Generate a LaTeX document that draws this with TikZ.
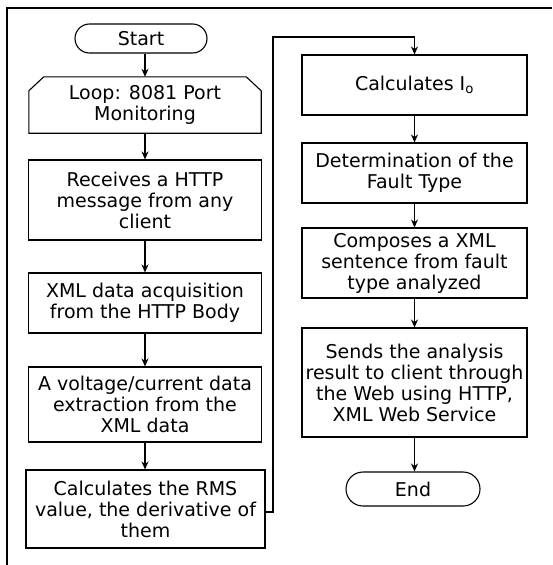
\documentclass[tikz,border=0pt]{standalone}
\usepackage{fontspec}
\setmainfont{DejaVu Sans}
\usetikzlibrary{shapes.misc,arrows.meta,calc}
\begin{document}
\begin{tikzpicture}[x=1pt,y=-1pt,
  every node/.style={font=\fontsize{19}{21}\selectfont, align=center, inner sep=0pt},
  box/.style={draw, line width=1.1pt, rectangle},
  term/.style={draw, line width=1.1pt, rounded rectangle},
  plain/.style={rectangle},
  conn/.style={line width=1.1pt, -{Stealth[length=8pt,width=7pt]}}]
\useasboundingbox (0,0) rectangle (552,565);
\draw[line width=1.2pt] (552,8) -- (7,8) -- (7,565);
% left column
\node[term, minimum width=132pt, minimum height=29pt] (start) at (141,38.5) {Start};
\node[plain, minimum width=232pt, minimum height=56pt] (loop) at (145,105) {Loop: 8081 Port\\Monitoring};
\draw[line width=1.1pt] (loop.south west) -- ($(loop.north west)+(0,14)$) -- ($(loop.north west)+(15,0)$) -- ($(loop.north east)+(-15,0)$) -- ($(loop.north east)+(0,14)$) -- (loop.south east) -- cycle;
\node[box, minimum width=233pt, minimum height=80pt] (recv) at (145,200) {Receives a HTTP\\message from any\\client};
\node[box, minimum width=233pt, minimum height=60pt] (xml) at (145,303) {XML data acquisition\\from the HTTP Body};
\node[box, minimum width=233pt, minimum height=75pt] (volt) at (145,404.5) {A voltage/current data\\extraction from the\\XML data};
\node[box, minimum width=239pt, minimum height=78pt] (rms) at (145.5,509) {Calculates the RMS\\value, the derivative of\\them};
% right column
\node[box, minimum width=225pt, minimum height=60pt] (io) at (414.5,85) {Calculates I\textsubscript{o}};
\node[box, minimum width=225pt, minimum height=60pt] (det) at (414.5,173) {Determination of the\\Fault Type};
\node[box, minimum width=225pt, minimum height=70pt] (comp) at (414.5,263) {Composes a XML\\sentence from fault\\type analyzed};
\node[box, minimum width=225pt, minimum height=109pt] (send) at (414.5,382.5) {Sends the analysis\\result to client through\\the Web using HTTP,\\XML Web Service};
\node[term, minimum width=134pt, minimum height=34pt] (end) at (413,489) {End};
\coordinate (c1) at (273,512);
\coordinate (c2) at (273,37);
% connectors
\draw[conn] (start.south -| loop.north) -- (loop.north);
\draw[conn] (loop) -- (recv);
\draw[conn] (recv) -- (xml);
\draw[conn] (xml) -- (volt);
\draw[conn] (volt.south) -- (volt.south |- rms.north);
\draw[conn] (rms.east |- c1) -- (c1) -- (c2) -| (io.north);
\draw[conn] (io) -- (det);
\draw[conn] (det) -- (comp);
\draw[conn] (comp) -- (send);
\draw[conn] (send.south) -- (send.south |- end.north);
\end{tikzpicture}
\end{document}
